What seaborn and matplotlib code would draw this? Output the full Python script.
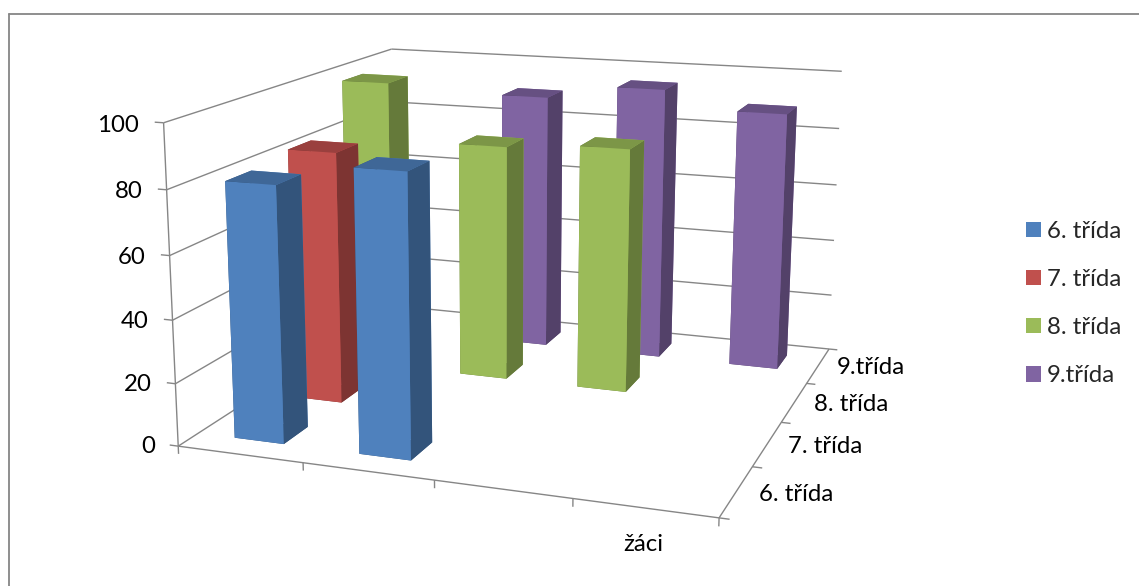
import numpy as np
import matplotlib
matplotlib.use("Agg")
import matplotlib.pyplot as plt
from matplotlib.lines import Line2D
from matplotlib.patches import Patch
from mpl_toolkits.mplot3d import proj3d
from mpl_toolkits.mplot3d.art3d import Line3DCollection
import seaborn as sns

# Chart values: one entry per drawn column
groups = ["6. třída", "7. třída", "8. třída", "9.třída"]
depth_labels = ["6. třída", "7. třída", "8. třída", "9.třída"]
category_label = "žáci"
value_ticks = [0, 20, 40, 60, 80, 100]
bar_rows = [0, 0, 1, 2, 2, 2, 3, 3, 3]
bar_columns = [0, 1, 0, 0, 1, 2, 1, 2, 3]
bar_values = [81, 88, 83, 99, 80, 82, 90, 95, 89]
palette = sns.color_palette(["#4F81BD", "#C0504D", "#9BBB59", "#8064A2"])

sns.set_theme(style="white")
plt.rcParams["font.family"] = ["Lato", "DejaVu Sans"]
FONT_SIZE = 17.3

W, H = 1139, 586
fig = plt.figure(figsize=(W / 100, H / 100), dpi=100, facecolor="white")
ax = fig.add_axes([0, 0, 1, 1], projection="3d", computed_zorder=False)
ax.set_axis_off()
ax.patch.set_visible(False)


def fit_camera(world, image):
    """Direct linear fit of a 3x4 camera from world/image point pairs."""
    rows = []
    for (x, y, z), (u, v) in zip(world, image):
        X = [x, y, z / 25, 1]
        u, v = u / 1000, v / 1000
        rows.append(X + [0, 0, 0, 0] + [-u * c for c in X])
        rows.append([0, 0, 0, 0] + X + [-v * c for c in X])
    P = np.linalg.svd(np.array(rows))[2][-1].reshape(3, 4)
    P[:, 2] /= 25
    P[:2] *= 1000
    return P if P[2, 3] > 0 else -P


# Box corners and tick positions that define the oblique view
camera = fit_camera(
    [(0, 0, 0), (0, 0, 100), (0, 4, 100), (4, 4, 100), (4, 4, 0), (4, 0, 0),
     (1, 0, 0), (2, 0, 0), (3, 0, 0), (4, 1, 0), (4, 2, 0), (4, 3, 0)],
    [(179, 446), (164, 122), (391, 49), (842, 72), (828, 349), (718, 517),
     (303, 463), (434, 481), (572, 500), (753, 466), (782, 422), (808, 383)],
)
matrix = np.vstack([camera[0], camera[1], [0, 0, 0, -1], camera[2]])
ax.get_proj = lambda: matrix
ax.apply_aspect = lambda position=None: None
ax.viewLim.intervalx = (0, W)
ax.viewLim.intervaly = (H, 0)


def label_at(x, y, z, text, ha):
    """Place a flat text label at the projected position of a box point."""
    px, py, _ = proj3d.proj_transform(x, y, z, matrix)
    ax.text2D(float(px), float(py), text, transform=ax.transData, ha=ha, va="center",
              fontsize=FONT_SIZE, color="black")


# Wall gridlines, axis edges and tick marks
segments = []
for v in value_ticks:
    segments.append([(0, 0, v), (0, 4, v)])
    segments.append([(0, 4, v), (4, 4, v)])
    segments.append([(0, 0, v), (-0.07, 0, v)])
    label_at(-0.195, 0, v - 1.2, str(v), "right")
segments.append([(0, 0, 0), (0, 0, 100)])
segments.append([(0, 0, 0), (4, 0, 0)])
segments.append([(4, 0, 0), (4, 4, 0)])
for k in range(5):
    segments.append([(k, 0, 0), (k, 0, -2.5)])
    segments.append([(4, k, 0), (4.07, k, 0)])
ax.add_collection3d(Line3DCollection(segments, colors="#868686", linewidths=1.0, zorder=1))

for j, name in enumerate(depth_labels):
    label_at(4.155, j + 0.5, 0, name, "left")
label_at(3.49, 0, -11, category_label, "center")


def shaded(rgb, factor):
    return tuple(c * factor for c in rgb)


# Columns, drawn from the back row to the front row
order = sorted(range(len(bar_values)), key=lambda i: -bar_rows[i])
for rank, i in enumerate(order):
    base = palette[bar_rows[i]]
    faces = [shaded(base, 0.65), shaded(base, 0.8), base, base,
             shaded(base, 0.65), shaded(base, 0.65)]
    ax.bar3d(bar_columns[i] + 0.3, bar_rows[i] + 0.3, 0, 0.4, 0.4, bar_values[i],
             color=faces, shade=False, edgecolor="none", zorder=10 + rank)

# Legend on the right of the plot
handles = [Patch(facecolor=c, edgecolor="none") for c in palette]
fig.legend(handles, groups, loc="upper left", bbox_to_anchor=(1026 / W, 1 - 221 / H),
           frameon=False, fontsize=FONT_SIZE, handlelength=0.63, handleheight=0.63,
           handletextpad=0.25, labelspacing=1.125, borderpad=0, borderaxespad=0)

# Outer chart frame, open on the right and bottom edges
fig.add_artist(Line2D([9 / W, 9 / W], [0, 1 - 14 / H], color="#868686", lw=1.3))
fig.add_artist(Line2D([9 / W, 1], [1 - 14 / H, 1 - 14 / H], color="#868686", lw=1.3))

fig.savefig("out.png", dpi=100)
